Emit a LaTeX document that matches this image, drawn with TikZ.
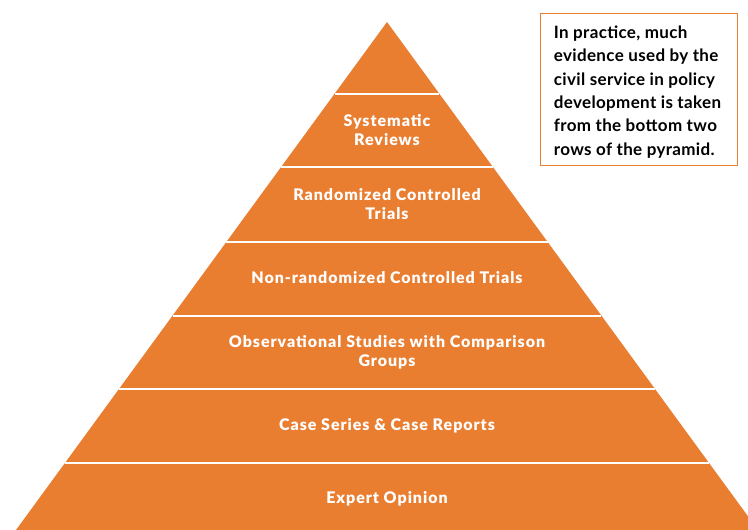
\documentclass[tikz,border=0pt]{standalone}
\usepackage{fontspec}
\setmainfont{Lato}
\newfontfamily\tierfont{Lato Black}[LetterSpace=6]
\newfontfamily\notefont{Lato}[LetterSpace=2]
\usetikzlibrary{calc, positioning}
\definecolor{pyrOrange}{RGB}{233,125,48}

\begin{document}
\begin{tikzpicture}[x=1pt, y=-1pt]
        % Estilos de las filas, lineas y recuadro
        \tikzstyle{tier} = [text=white, align=center, inner sep=0pt, font=\tierfont\fontsize{16}{19}\selectfont]
        \tikzstyle{sepline} = [white, line width=2pt]
        \tikzstyle{noteframe} = [draw=pyrOrange, line width=1.6pt, rectangle, minimum width=197pt, minimum height=152pt, inner sep=0pt]
        \tikzstyle{notetext} = [align=left, inner sep=0pt, font=\notefont\fontsize{17}{23.3}\selectfont\bfseries]

        \useasboundingbox (0,0) rectangle (748,530);

        % Vertices de la piramide
        \coordinate (apex) at (387,22);
        \coordinate (baseLeft) at (16,530);
        \coordinate (baseRight) at (758,530);

        \begin{scope}
          \clip (0,0) rectangle (748,530);
          \fill[pyrOrange] (apex) -- (baseLeft) -- (baseRight) -- cycle;
        \end{scope}

        % Lineas de separacion
        \foreach \y in {93.5,167.3,242.3,315.7,389.3,463}
          \draw[sepline] ($(apex)!{(\y-22)/508}!(baseLeft)$) -- ($(apex)!{(\y-22)/508}!(baseRight)$);

        % Textos de las filas
        \node[tier] (systematic) at (387,130) {Systematic\\Reviews};
        \node[tier] (randomized) at (387,204) {Randomized Controlled\\Trials};
        \node[tier] (nonRandomized) at (387,278) {Non-randomized Controlled Trials};
        \node[tier] (observational) at (387,352) {Observational Studies with Comparison\\Groups};
        \node[tier] (caseSeries) at (387,426) {Case Series \& Case Reports};
        \node[tier] (expert) at (387,499) {Expert Opinion};

        % Recuadro de nota
        \node[noteframe] (noteBox) at (639,89.5) {};
        \node[notetext, anchor=north west] (noteText) at ($(noteBox.north west)+(14,13)$)
          {In practice, much\\evidence used by the\\civil service in policy\\development is taken\\from the bottom two\\rows of the pyramid.};
      \end{tikzpicture}
\end{document}
